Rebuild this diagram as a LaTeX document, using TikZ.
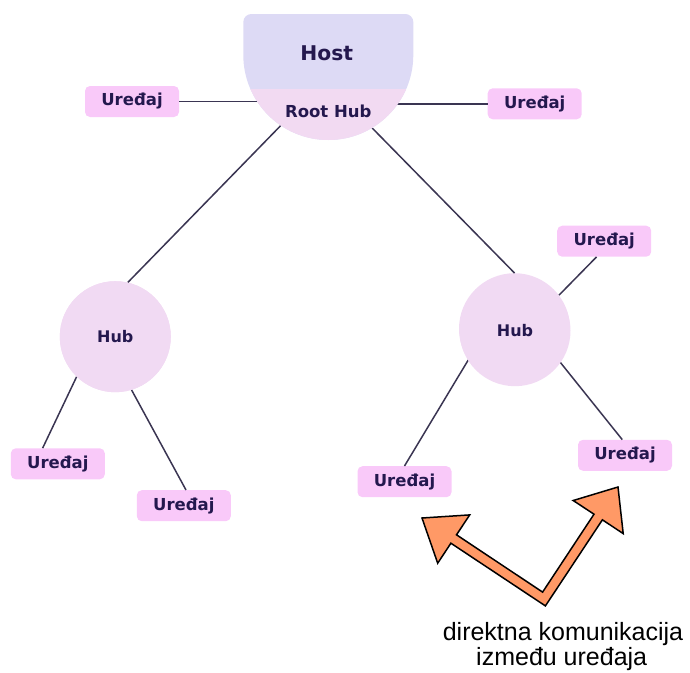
\documentclass[tikz,border=0pt]{standalone}
\usepackage{fontspec}
\newfontfamily\labfont{DejaVu Sans}
\newfontfamily\captfont{Liberation Sans}
\definecolor{hostcol}{RGB}{221,218,245}
\definecolor{rootcol}{RGB}{242,218,242}
\definecolor{hubcol}{RGB}{241,218,243}
\definecolor{devcol}{RGB}{249,201,249}
\definecolor{txtcol}{RGB}{36,24,78}
\definecolor{linecol}{RGB}{58,53,82}
\definecolor{arrcol}{RGB}{255,153,102}
\tikzset{
  devbox/.style={draw=none, fill=devcol, rounded corners=5pt, minimum width=94pt, minimum height=31pt, inner sep=0pt,
    text=txtcol, font=\labfont\bfseries\fontsize{16.5}{18}\selectfont},
  hubnode/.style={circle, fill=hubcol, minimum size=111pt, inner sep=0pt,
    text=txtcol, font=\labfont\bfseries\fontsize{16}{18}\selectfont},
  conn/.style={draw=linecol, line width=1.5pt},
  bigarrow/.style={fill=arrcol, draw=black, line width=1.5pt, line join=miter}
}
\begin{document}
\begin{tikzpicture}[x=1pt,y=-1pt]
\useasboundingbox (0,0) rectangle (690,672);
% invisible anchor for the root hub circle
\node[circle, minimum size=170pt, inner sep=0pt] (root) at (328.3,55) {};
% nodes
\node[devbox] (dtl) at (132,101.5) {Uređaj};
\node[devbox] (dtr) at (534.7,103.8) {Uređaj};
\node[hubnode] (lhub) at (115.3,336.7) {};
\node[hubnode] (rhub) at (514.5,328.7) {};
\node[devbox] (drt) at (604.2,241.2) {Uređaj};
\node[devbox] (dl1) at (57.8,463.8) {Uređaj};
\node[devbox] (dl2) at (183.8,505.7) {Uređaj};
\node[devbox] (dr1) at (404.5,481.7) {Uređaj};
\node[devbox] (dr2) at (625,455.3) {Uređaj};
% connectors
\draw[conn] (dtl.east) -- (dtl.east -| root.center);
\draw[conn] (dtr.west) -- (dtr.west -| root.center);
\draw[conn] (root.236) -- (lhub.77);
\draw[conn] (root.301) -- (rhub.90);
\draw[conn] (rhub.37) -- (drt.244);
\draw[conn] (lhub.226) -- (dl1.134);
\draw[conn] (lhub.287) -- (dl2.82);
\draw[conn] (rhub.214) -- (dr1.90);
\draw[conn] (rhub.324) -- (dr2.100);
% host / root hub shape
\path[fill=hostcol] (243.3,55) [rounded corners=8pt] -- (243.3,14) -- (413.3,14) [sharp corners] -- (413.3,55)
  arc[start angle=0, end angle=-180, radius=85pt] -- cycle;
\begin{scope}
  \clip (0,89.3) rectangle (690,200);
  \fill[rootcol] (328.3,55) circle[radius=85pt];
\end{scope}
\node[text=txtcol, font=\labfont\bfseries\fontsize{20.3}{22}\selectfont] (host) at (326.7,53.3) {Host};
\node[text=txtcol, font=\labfont\bfseries\fontsize{16.5}{18}\selectfont] (roothub) at (328.3,111.7) {Root Hub};
% hub labels (redraw circles on top of lines)
\node[hubnode] at (lhub) {Hub};
\node[hubnode] at (515,330.7) {Hub};
% double arrow
\draw[bigarrow] (422,518) -- (469.7,514.9) -- (456.5,534.8) -- (542.6,592.1) -- (594.0,514.2)
  -- (573.2,500.5) -- (618,487) -- (623.2,533.6) -- (602.4,519.8) -- (545.4,605.9)
  -- (450.9,543.2) -- (437.7,563.2) -- cycle;
% caption
\node[font=\captfont\fontsize{25}{25}\selectfont, anchor=base] (cap1) at (563,640) {direktna komunikacija};
\node[font=\captfont\fontsize{25}{25}\selectfont, anchor=base] (cap2) at (561.7,665) {između uređaja};
\end{tikzpicture}
\end{document}
